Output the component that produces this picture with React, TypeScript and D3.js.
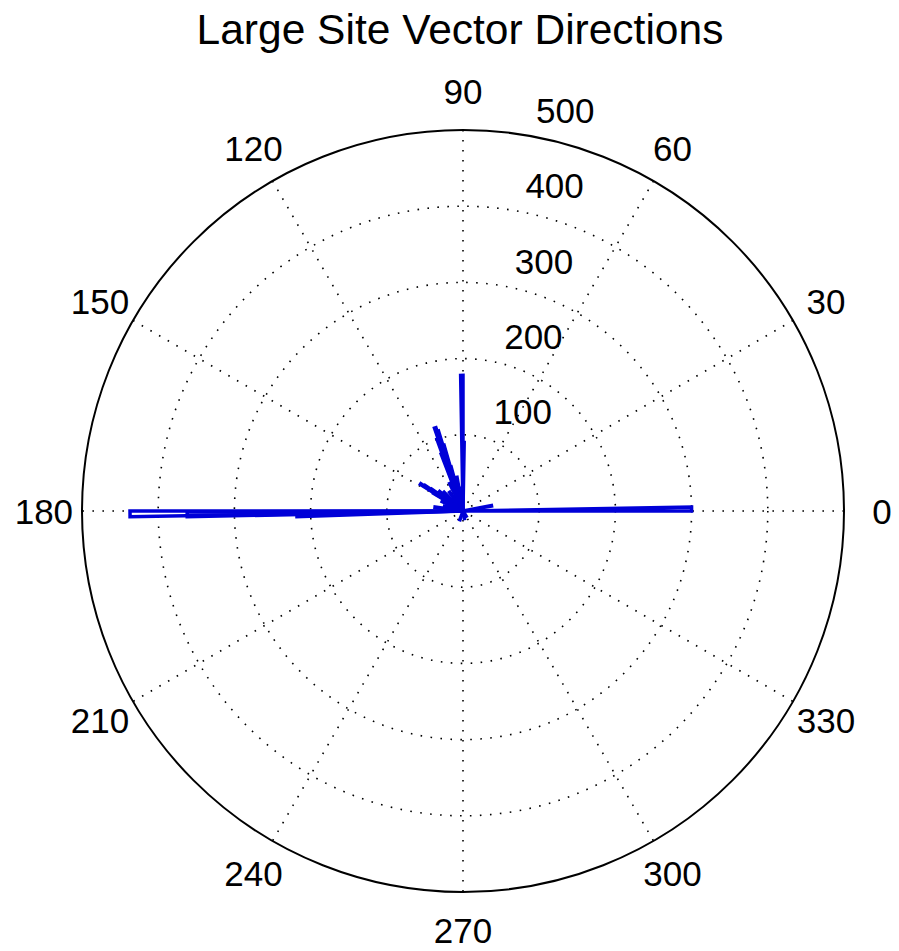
import React from "react";
import * as d3 from "d3";

const TITLE = "Large Site Vector Directions";
const RMAX = 500;
const RINGS = [100, 200, 300, 400];
const SPOKES = [0, 30, 60, 90, 120, 150];
const ANGLE_LABELS = [0, 30, 60, 90, 120, 150, 180, 210, 240, 270, 300, 330];
const RADIAL_LABELS = [100, 200, 300, 400, 500];
// rose bins: start angle (deg), 1 degree wide, and count
const BIN_START = [0, 10, 89, 90, 95, 100, 105, 106, 107, 108, 109, 110, 115, 125, 135, 140, 145, 146, 147, 148, 155, 165, 172, 180, 180.2, 181, 250, 280, 300];
const BIN_COUNT = [300, 38, 90, 178, 30, 45, 60, 90, 110, 115, 100, 80, 40, 30, 35, 40, 50, 60, 66, 45, 30, 25, 37, 437, 362, 218, 12, 10, 8];
const BIN_WIDTH = 1;

const W = 899;
const H = 951;
const CX = 463;
const CY = 511;
const R = 381;

export default function App() {
  const r = d3.scaleLinear().domain([0, RMAX]).range([0, R]);
  const pt = (val: number, deg: number): [number, number] => {
    const a = (deg * Math.PI) / 180;
    return [CX + r(val) * Math.cos(a), CY - r(val) * Math.sin(a)];
  };
  const font = "Arial, 'Liberation Sans', Helvetica, sans-serif";
  const tickSize = 35;
  const line = d3.line();

  return (
    <svg width={W} height={H} style={{ position: "absolute", left: 0, top: 0, background: "#fff" }}>
      <rect x={0} y={0} width={W} height={H} fill="#fff" />
      {RINGS.map((v) => (
        <circle key={v} cx={CX} cy={CY} r={r(v)} fill="none" stroke="#000" strokeWidth={1.6} strokeDasharray="1.6 8.4" />
      ))}
      {SPOKES.map((a) => (
        <path key={a} d={line([pt(RMAX, a), pt(RMAX, a + 180)]) || ""} stroke="#000" strokeWidth={1.6} strokeDasharray="1.6 8.4" fill="none" />
      ))}
      <circle cx={CX} cy={CY} r={r(RMAX)} fill="none" stroke="#000" strokeWidth={2} />
      {ANGLE_LABELS.map((a) => {
        const [x, y] = pt(RMAX * 1.1, a);
        return (
          <text key={a} x={x} y={y} fontFamily={font} fontSize={tickSize} textAnchor="middle" dominantBaseline="central" fill="#000">
            {a}
          </text>
        );
      })}
      {RADIAL_LABELS.map((v) => {
        const [x, y] = pt(v + 5, 82);
        return (
          <text key={v} x={x + 0.556 * tickSize} y={y - 0.21 * tickSize} fontFamily={font} fontSize={tickSize} fill="#000">
            {v}
          </text>
        );
      })}
      {BIN_START.map((a, i) => {
        const c = BIN_COUNT[i];
        const d = line([pt(0, a), pt(c, a), pt(c, a + BIN_WIDTH), pt(0, a + BIN_WIDTH)]) + "Z";
        return <path key={i} d={d} fill="none" stroke="#0000d8" strokeWidth={3.5} strokeLinejoin="miter" />;
      })}
      <text x={460} y={44} fontFamily={font} fontSize={42.5} textAnchor="middle" fill="#000">
        {TITLE}
      </text>
    </svg>
  );
}
